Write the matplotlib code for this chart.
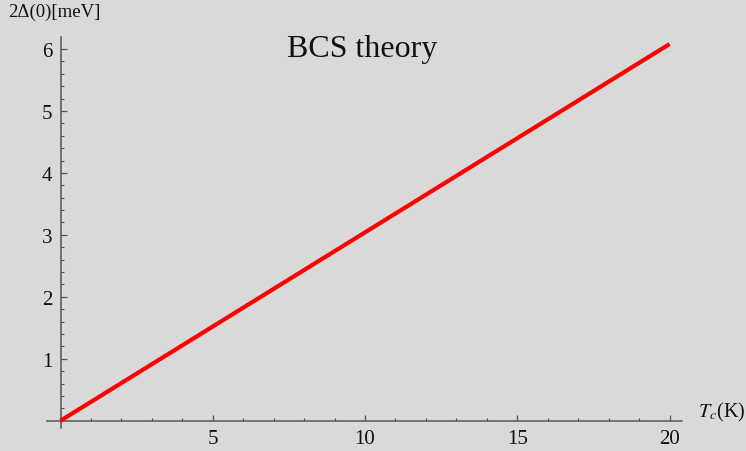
import matplotlib
matplotlib.use("Agg")
import matplotlib.pyplot as plt
import numpy as np
from matplotlib.ticker import FixedLocator

plt.rcParams['font.family'] = ['Liberation Serif', 'DejaVu Serif']
plt.rcParams['mathtext.fontset'] = 'stix'

# Data: BCS gap 2Δ(0) = 3.53 k_B Tc
Tc = [0, 20]
gap = [0, 6.08]
x_major = [5, 10, 15, 20]
y_major = [1, 2, 3, 4, 5, 6]

bg = '#d9d9d9'
axc = '#555555'

fig = plt.figure(figsize=(7.46, 4.52), dpi=100, facecolor=bg)
ax = fig.add_axes([0, 0, 1, 1], facecolor=bg)

ax.plot(Tc, gap, color='#ff0000', lw=3.0, solid_capstyle='butt', zorder=3)

ax.set_xlim(-1.987, 22.51)
ax.set_ylim(-0.489, 6.807)

for s in ['top', 'right']:
    ax.spines[s].set_visible(False)
ax.spines['left'].set_position(('data', 0))
ax.spines['bottom'].set_position(('data', 0))
ax.spines['bottom'].set_bounds(-0.45, 20.4)
ax.spines['left'].set_bounds(-0.12, 6.2)
for s in ['left', 'bottom']:
    ax.spines[s].set_color(axc)
    ax.spines[s].set_linewidth(1.1)

ax.set_xticks(x_major)
ax.set_yticks(y_major)
ax.set_xticklabels([str(v) for v in x_major])
ax.set_yticklabels([str(v) for v in y_major])
x_minor = [v for v in range(1, 21) if v % 5 != 0]
y_minor = [round(v, 1) for v in np.arange(0.2, 6.15, 0.2) if abs(v - round(v)) > 1e-6]
ax.xaxis.set_minor_locator(FixedLocator(x_minor))
ax.yaxis.set_minor_locator(FixedLocator(y_minor))
ax.tick_params(which='major', direction='in', length=4.5, width=0.9, color=axc,
               labelsize=15, labelcolor='#111111', pad=6)
ax.tick_params(which='minor', direction='in', length=2.5, width=0.8, color=axc)

fig.text(8/746, 1 - 4/452, '2Δ(0)[meV]', fontsize=13.5, ha='left', va='top', color='#111111')
fig.text(698/746, 1 - 412/452, '$T_c$(K)', fontsize=14.5, ha='left', va='center', color='#111111')
fig.text(362/746, 1 - 50/452, 'BCS theory', fontsize=23, ha='center', va='center', color='#111111')

fig.savefig('out.png', dpi=100, facecolor=bg)
